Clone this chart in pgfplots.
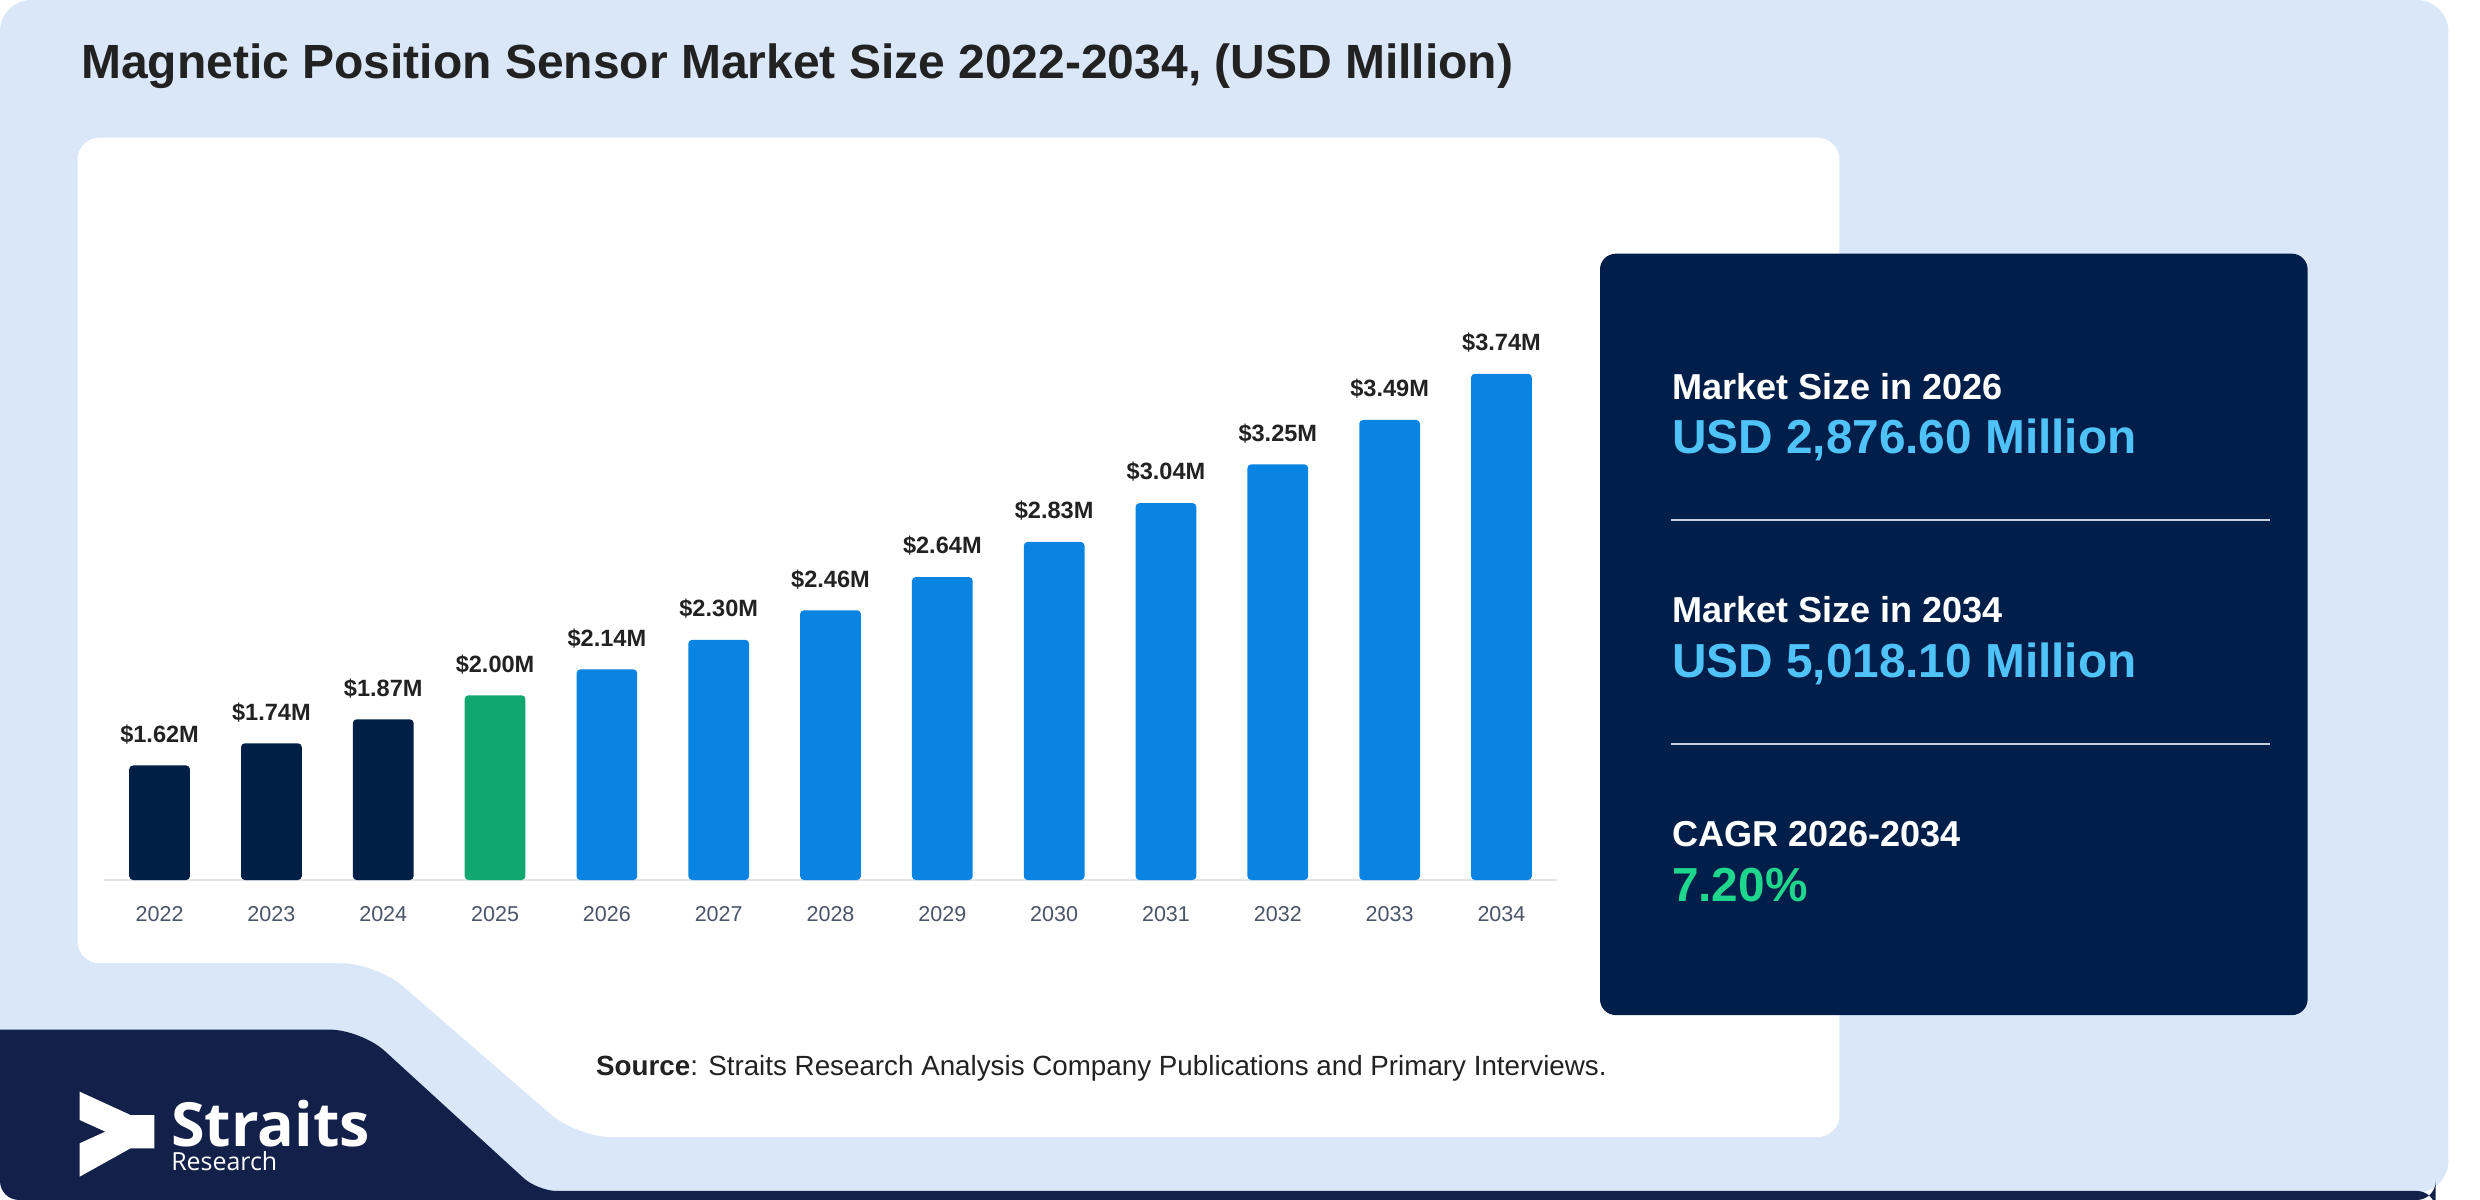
\documentclass[border=0pt]{standalone}
\usepackage{fontspec}
\setmainfont{Liberation Sans}
\newfontfamily\opensans{Open Sans}
\usepackage{graphicx}
\usepackage{pgfplots}
\pgfplotsset{compat=1.18}

\definecolor{bgblue}{HTML}{D9E7F9}
\definecolor{navybar}{HTML}{001F47}
\definecolor{greenbar}{HTML}{10A870}
\definecolor{bluebar}{HTML}{0A84E2}
\definecolor{panel}{HTML}{001E4A}
\definecolor{logonavy}{HTML}{13204A}
\definecolor{titlec}{HTML}{222222}
\definecolor{tickc}{HTML}{4A5568}
\definecolor{lightblue}{HTML}{4FC3F7}
\definecolor{cagrgreen}{HTML}{1ED68C}
\definecolor{linec}{HTML}{C8D0DC}
\definecolor{axisc}{HTML}{E2E4E8}

\begin{document}
\begin{tikzpicture}
\useasboundingbox (0,0) rectangle (784pt,379.35pt);
\fill[white] (0,0) rectangle (784pt,379.35pt);
\begin{scope}[x=0.5pt, yshift=379.35pt, y=-0.5pt]
  % background
  \fill[bgblue, rounded corners=10pt] (0,0) rectangle (1548,754);
  % navy bottom-left shape
  \fill[logonavy] (0,651) [rounded corners=10pt] -- (228.5,651) [rounded corners=6pt] -- (340,753) -- (1540,753) -- (1540,758.7) [rounded corners=6pt] -- (0,758.7) [sharp corners] -- cycle;
  % white chart panel
  \fill[white] (600,87) [rounded corners=7pt] -- (1163,87) -- (1163,719) [rounded corners=11pt] -- (365,719) -- (238,609) [rounded corners=7pt] -- (49,609) -- (49,87) -- cycle;
  % right info panel
  \fill[panel, rounded corners=5pt] (1011.6,160.4) rectangle (1459,641.8);
  % title
  \node[anchor=base west, inner sep=0pt, text=titlec, font=\fontsize{15.17}{18}\selectfont\bfseries] at (51,49.5) {Magnetic Position Sensor Market Size 2022-2034, (USD Million)};
  % right panel text
  \node[anchor=base west, inner sep=0pt, text=white, font=\fontsize{11.4}{13}\selectfont\bfseries] at (1056.8,252.3) {Market Size in 2026};
  \node[anchor=base west, inner sep=0pt, text=lightblue, font=\fontsize{15.1}{18}\selectfont\bfseries] at (1056.8,287) {USD 2,876.60 Million};
  \draw[linec, line width=0.6pt] (1056.8,329) -- (1435.5,329);
  \node[anchor=base west, inner sep=0pt, text=white, font=\fontsize{11.4}{13}\selectfont\bfseries] at (1056.8,393.5) {Market Size in 2034};
  \node[anchor=base west, inner sep=0pt, text=lightblue, font=\fontsize{15.1}{18}\selectfont\bfseries] at (1056.8,428.4) {USD 5,018.10 Million};
  \draw[linec, line width=0.6pt] (1056.8,470.3) -- (1435.5,470.3);
  \node[anchor=base west, inner sep=0pt, text=white, font=\fontsize{11.4}{13}\selectfont\bfseries] at (1056.8,534.9) {CAGR 2026-2034};
  \node[anchor=base west, inner sep=0pt, text=cagrgreen, font=\fontsize{15.1}{18}\selectfont\bfseries] at (1056.8,570.3) {7.20\%};
  % source
  \node[anchor=base west, inner sep=0pt, text=titlec, font=\fontsize{8.78}{10}\selectfont] at (376.5,680.3) {\textbf{Source}: Straits Research Analysis Company Publications and Primary Interviews.};
  % logo
  \fill[white] (50.3,690.2) -- (82.6,705) -- (97.6,705) -- (97.6,726) -- (82.6,726) -- (50.3,744) -- (50.3,722.9) -- (66.6,715.5) -- (50.3,708.1) -- cycle;
  \node[anchor=base west, inner sep=0pt, text=white] at (107.9,724.6) {\resizebox{62.8pt}{!}{\opensans\bfseries Straits}};
  \node[anchor=base west, inner sep=0pt, text=white] at (107.9,740) {\resizebox{33.5pt}{!}{\opensans Research}};
\end{scope}

\begin{axis}[
  at={(32.775pt,101.15pt)}, anchor=south west,
  scale only axis, width=459.55pt, height=186.9pt,
  xmin=-0.5, xmax=12.5, ymin=1, ymax=4.2,
  axis x line*=bottom, axis y line=none,
  x axis line style={draw=axisc, line width=0.8pt, -},
  xtick={0,1,2,3,4,5,6,7,8,9,10,11,12},
  xticklabels={2022,2023,2024,2025,2026,2027,2028,2029,2030,2031,2032,2033,2034},
  major tick length=0pt,
  xticklabel style={font=\fontsize{6.8}{8}\selectfont, text=tickc, inner sep=0pt, anchor=north, yshift=-8.3pt},
  ytick=\empty,
  ybar, bar width=19.2pt, /pgf/bar shift=0pt,
  point meta=y,
  nodes near coords={\$\pgfmathprintnumber[fixed,fixed zerofill,precision=2,assume math mode=true]{\pgfplotspointmeta}M},
  every node near coord/.append style={font=\fontsize{7.45}{9}\selectfont\bfseries, text=titlec, anchor=base, inner sep=0pt, yshift=7.35pt},
]
\addplot[fill=navybar, draw=none, rounded corners=1.2pt] coordinates {(0,1.62) (1,1.74) (2,1.87)};
\addplot[fill=greenbar, draw=none, rounded corners=1.2pt] coordinates {(3,2.00)};
\addplot[fill=bluebar, draw=none, rounded corners=1.2pt] coordinates {(4,2.14) (5,2.30) (6,2.46) (7,2.64) (8,2.83) (9,3.04) (10,3.25) (11,3.49) (12,3.74)};
\end{axis}
\end{tikzpicture}
\end{document}
